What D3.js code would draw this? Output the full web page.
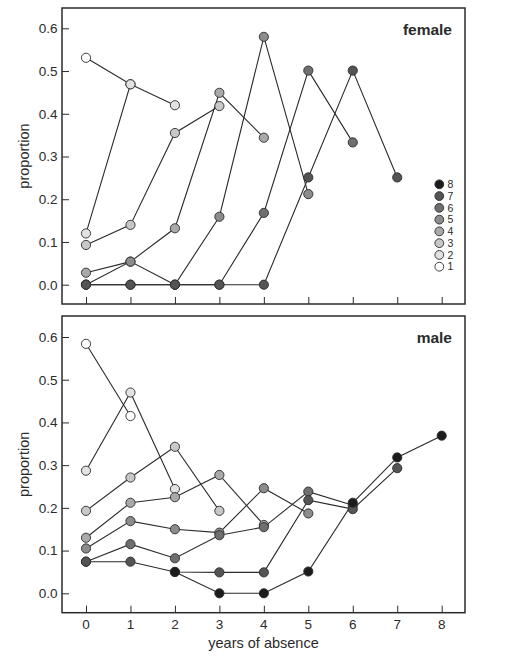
<!DOCTYPE html>
<html><head><meta charset="utf-8">
<script src="https://cdn.jsdelivr.net/npm/d3@7"></script>
<style>
html,body{margin:0;padding:0;background:#fff;}
svg{display:block;font-family:"Liberation Sans",Arial,sans-serif;}
</style></head>
<body><svg id="c" width="510" height="658"></svg>
<script>
// ---- data ----
const years = [0,1,2,3,4,5,6,7,8];
const yTicks = [0,0.1,0.2,0.3,0.4,0.5,0.6];
const seriesNames = ["1","2","3","4","5","6","7","8"];
const seriesColors = ["#ffffff","#e2e2e2","#c8c8c8","#a9a9a9","#8c8c8c","#6f6f6f","#545454","#1c1c1c"];
const female1 = [0.531,0.469];
const female2 = [0.120,0.469,0.420];
const female3 = [0.093,0.140,0.355,0.418];
const female4 = [0.028,0.054,0.132,0.449,0.344];
const female5 = [0,0.054,0,0.159,0.580,0.212];
const female6 = [0,0,0,0,0.168,0.501,0.333];
const female7 = [0,0,0,0,0,0.251,0.501,0.251];
const male1 = [0.584,0.415];
const male2 = [0.287,0.470,0.244];
const male3 = [0.193,0.271,0.343,0.193];
const male4 = [0.130,0.212,0.225,0.277,0.160];
const male5 = [0.105,0.169,0.150,0.142,0.246,0.187];
const male6 = [0.074,0.115,0.082,0.136,0.155,0.238,0.206];
const male7 = [0.074,0.074,0.050,0.049,0.049,0.218,0.197,0.293];
const male8 = [null,null,0.050,0,0,0.051,0.212,0.318,0.369];

const panels = [
  {label:"female", series:[female1,female2,female3,female4,female5,female6,female7], top:8, bottom:304, y0:284.7, y6:28.3, xlabels:false, legend:true},
  {label:"male", series:[male1,male2,male3,male4,male5,male6,male7,male8], top:316, bottom:612.7, y0:593.3, y6:337, xlabels:true, legend:false}
];

const svg = d3.select("#c");
const left = 62, right = 465;
const x = d3.scaleLinear().domain([0,8]).range([86,441.7]);
const ink = "#2b2b2b";

panels.forEach(p => {
  const g = svg.append("g");
  const y = d3.scaleLinear().domain([0,0.6]).range([p.y0,p.y6]);
  // frame
  g.append("rect").attr("x",left).attr("y",p.top).attr("width",right-left).attr("height",p.bottom-p.top)
    .attr("fill","none").attr("stroke",ink).attr("stroke-width",1.5);
  // y axis (ticks inside)
  const ya = g.append("g").attr("transform",`translate(${left},0)`)
    .call(d3.axisRight(y).tickValues(yTicks).tickSize(7).tickFormat(""));
  ya.select(".domain").remove();
  ya.selectAll("line").attr("stroke",ink).attr("stroke-width",1);
  g.selectAll(".ylab").data(yTicks).join("text").attr("class","ylab")
    .attr("x",57.5).attr("y",d=>y(d)).attr("dy","0.36em").attr("text-anchor","end")
    .attr("font-size",13.5).attr("fill",ink).text(d=>d3.format(".1f")(d));
  // x axis (ticks inside)
  const xa = g.append("g").attr("transform",`translate(0,${p.bottom})`)
    .call(d3.axisTop(x).tickValues(years).tickSize(7).tickFormat(""));
  xa.select(".domain").remove();
  xa.selectAll("line").attr("stroke",ink).attr("stroke-width",1);
  if (p.xlabels) {
    g.selectAll(".xlab").data(years).join("text").attr("class","xlab")
      .attr("x",d=>x(d)).attr("y",p.bottom+16.5).attr("text-anchor","middle")
      .attr("font-size",13.5).attr("fill",ink).text(d=>d);
  }
  // y title
  g.append("text").attr("transform",`translate(29,${(p.top+p.bottom)/2}) rotate(-90)`)
    .attr("text-anchor","middle").attr("font-size",14.5).attr("fill",ink).text("proportion");
  // panel label
  g.append("text").attr("x",452).attr("y",p.top+27).attr("text-anchor","end")
    .attr("font-size",15.5).attr("font-weight","bold").attr("fill",ink).text(p.label);
  // lines
  const line = d3.line().defined(d=>d.v!==null).x(d=>x(d.x)).y(d=>y(d.v));
  const sData = p.series.map((s,i)=>({i, pts:s.map((v,j)=>({x:years[j], v}))}));
  g.selectAll(".ln").data(sData).join("path").attr("class","ln")
    .attr("d",d=>line(d.pts)).attr("fill","none").attr("stroke",ink).attr("stroke-width",1.1);
  // points
  sData.forEach(s => {
    g.selectAll(".pt"+s.i).data(s.pts.filter(d=>d.v!==null)).join("circle")
      .attr("cx",d=>x(d.x)).attr("cy",d=>y(d.v)).attr("r",4.6)
      .attr("fill",seriesColors[s.i]).attr("stroke",ink).attr("stroke-width",0.9);
  });
  // legend
  if (p.legend) {
    const order = seriesNames.map((n,i)=>i).reverse();
    const lg = g.append("g");
    order.forEach((si,k) => {
      const cy = 184.3 + k*11.77;
      lg.append("circle").attr("cx",439.3).attr("cy",cy).attr("r",4.4)
        .attr("fill",seriesColors[si]).attr("stroke",ink).attr("stroke-width",0.9);
      lg.append("text").attr("x",447.5).attr("y",cy).attr("dy","0.36em")
        .attr("font-size",10.5).attr("fill",ink).text(seriesNames[si]);
    });
  }
});
// x title
svg.append("text").attr("x",263.5).attr("y",647.5).attr("text-anchor","middle")
  .attr("font-size",14.5).attr("fill",ink).text("years of absence");
</script></body></html>
